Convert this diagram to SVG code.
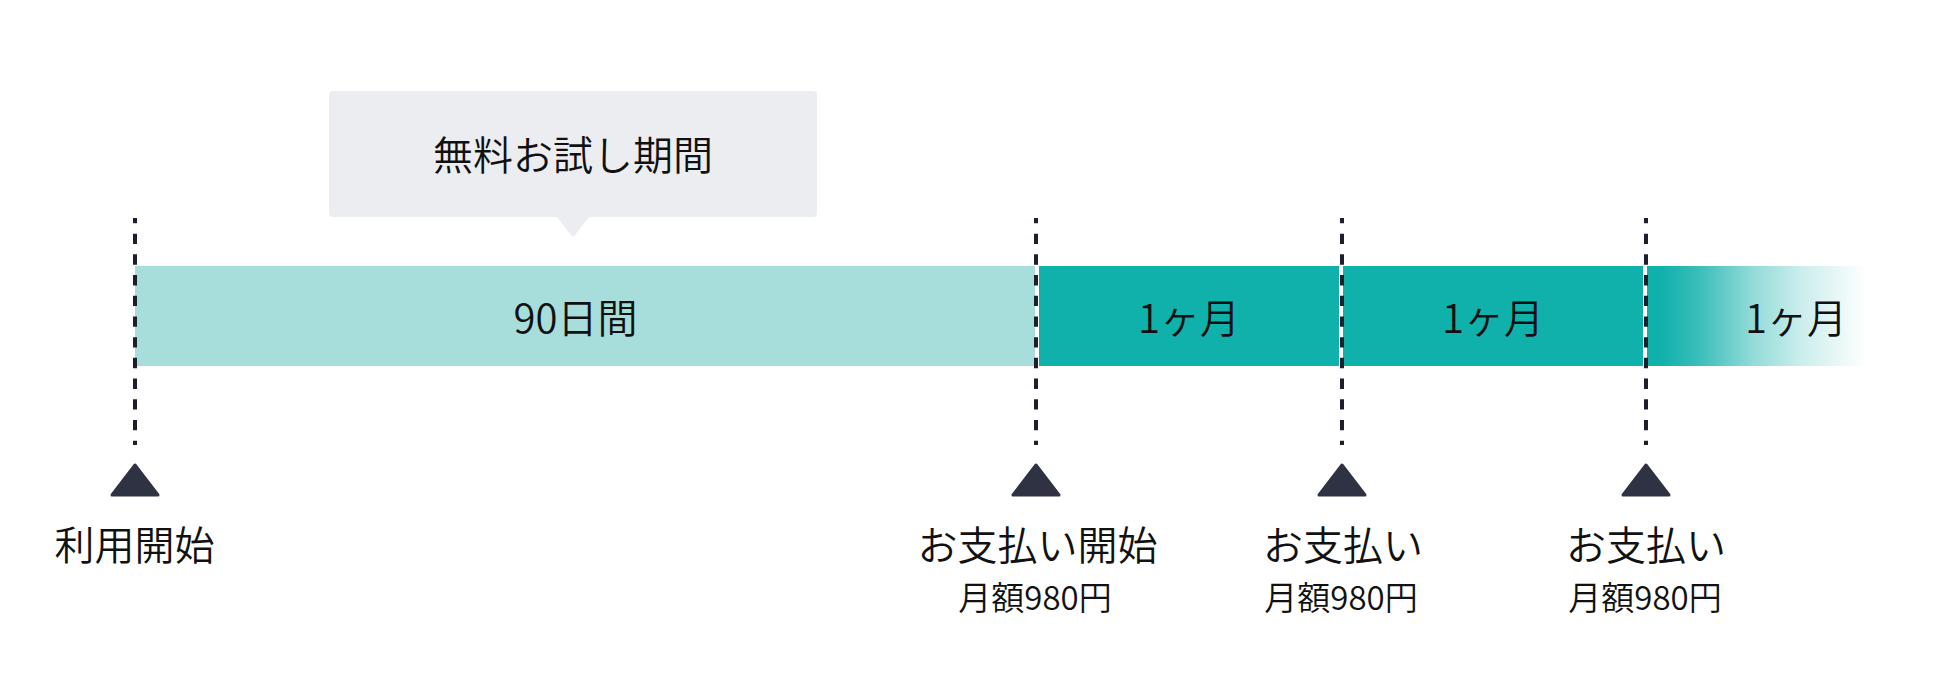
<svg xmlns="http://www.w3.org/2000/svg" width="1949" height="694" viewBox="0 0 1949 694">
  <defs>
    <style>
      .t { font-family: "Noto Sans CJK JP", "Noto Sans", sans-serif; font-weight: 350; fill: #111; text-anchor: middle; }
      .lg { font-size: 40px; }
      .sm { font-size: 33px; }
      .dash { stroke: #1f1f2b; stroke-width: 4; stroke-dasharray: 10.35 10.35; stroke-dashoffset: 5.05; fill: none; }
      .mark { fill: #2f3243; stroke: #2f3243; stroke-width: 3; stroke-linejoin: round; }
      .light { fill: #a7dedc; }
      .dark { fill: #10b0ab; }
    </style>
    <linearGradient id="fade" gradientUnits="userSpaceOnUse" x1="1647" y1="0" x2="1867" y2="0">
      <stop offset="0" stop-color="#10b0ab" stop-opacity="1"/>
      <stop offset="0.06" stop-color="#10b0ab" stop-opacity="1"/>
      <stop offset="0.24" stop-color="#10b0ab" stop-opacity="0.82"/>
      <stop offset="0.47" stop-color="#10b0ab" stop-opacity="0.47"/>
      <stop offset="0.7" stop-color="#10b0ab" stop-opacity="0.22"/>
      <stop offset="0.92" stop-color="#10b0ab" stop-opacity="0.06"/>
      <stop offset="1" stop-color="#10b0ab" stop-opacity="0"/>
    </linearGradient>
  </defs>
  <rect x="0" y="0" width="1949" height="694" fill="#ffffff"/>

  <g id="callout">
    <rect x="329" y="91" width="488" height="126" rx="4" fill="#ecedf1"/>
    <path d="M556 216 L590 216 L575 235 Q573 237.5 571 235 Z" fill="#ecedf1"/>
    <text class="t lg" x="573" y="169.5">無料お試し期間</text>
  </g>

  <g id="seg-trial">
    <rect class="light" x="135" y="266" width="900" height="100"/>
    <text class="t lg" x="575.5" y="333">90日間</text>
  </g>
  <g id="seg-month1">
    <rect class="dark" x="1039" y="266" width="300" height="100"/>
    <text class="t lg" x="1189" y="333">1ヶ月</text>
  </g>
  <g id="seg-month2">
    <rect class="dark" x="1343" y="266" width="300" height="100"/>
    <text class="t lg" x="1493" y="333">1ヶ月</text>
  </g>
  <g id="seg-month3">
    <rect x="1647" y="266" width="300" height="100" fill="url(#fade)"/>
    <text class="t lg" x="1796" y="333">1ヶ月</text>
  </g>

  <g id="connectors">
    <line class="dash" x1="135" y1="218" x2="135" y2="445"/>
    <line class="dash" x1="1036" y1="218" x2="1036" y2="445"/>
    <line class="dash" x1="1342" y1="218" x2="1342" y2="445"/>
    <line class="dash" x1="1646" y1="218" x2="1646" y2="445"/>
  </g>

  <g id="start">
    <polygon class="mark" points="135,465 112,495 158,495"/>
    <text class="t lg" x="134.5" y="560">利用開始</text>
  </g>
  <g id="pay-start">
    <polygon class="mark" points="1036,465 1013,495 1059,495"/>
    <text class="t lg" x="1037.5" y="560">お支払い開始</text>
    <text class="t sm" x="1035" y="610">月額980円</text>
  </g>
  <g id="pay-2">
    <polygon class="mark" points="1342,465 1319,495 1365,495"/>
    <text class="t lg" x="1343" y="560">お支払い</text>
    <text class="t sm" x="1341" y="610">月額980円</text>
  </g>
  <g id="pay-3">
    <polygon class="mark" points="1646,465 1623,495 1669,495"/>
    <text class="t lg" x="1646" y="560">お支払い</text>
    <text class="t sm" x="1645" y="610">月額980円</text>
  </g>
</svg>
